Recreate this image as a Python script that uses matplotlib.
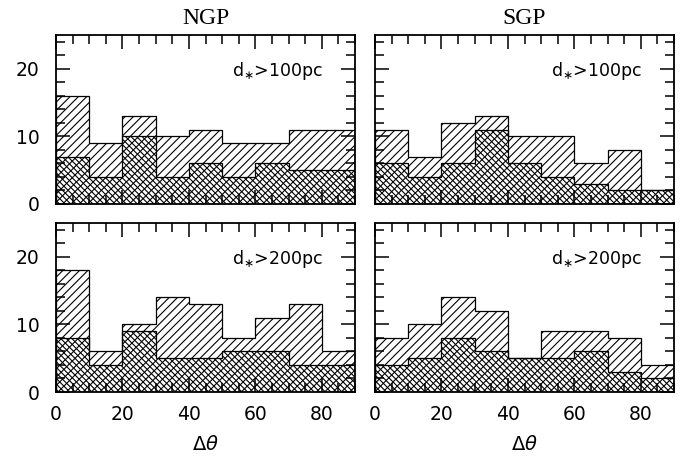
import matplotlib
matplotlib.use("Agg")
import matplotlib.pyplot as plt
import numpy as np
from matplotlib.ticker import MultipleLocator

edges = [0, 10, 20, 30, 40, 50, 60, 70, 80, 90]

ngp100_all = [16, 9, 13, 10, 11, 9, 9, 11, 11]
ngp100_sub = [7, 4, 10, 4, 6, 4, 6, 5, 5]
sgp100_all = [11, 7, 12, 13, 10, 10, 6, 8, 2]
sgp100_sub = [6, 4, 6, 11, 6, 4, 3, 2, 2]
ngp200_all = [18, 6, 10, 14, 13, 8, 11, 13, 6]
ngp200_sub = [8, 4, 9, 5, 5, 6, 6, 4, 4]
sgp200_all = [8, 10, 14, 12, 5, 9, 9, 8, 4]
sgp200_sub = [4, 5, 8, 6, 5, 5, 6, 3, 2]

titles = ["NGP", "SGP"]
labels = [r"d$_{\ast}$>100pc", r"d$_{\ast}$>200pc"]
xticks = [0, 20, 40, 60, 80]
yticks = [0, 10, 20]

plt.rcParams['hatch.linewidth'] = 0.8
plt.rcParams['hatch.color'] = 'black'

W, H = 691, 463
fig = plt.figure(figsize=(W / 100, H / 100), dpi=100)

lefts = [56 / W, 375 / W]
bottoms = [1 - 204 / H, 1 - 392 / H]
aw = 299 / W
ah = 169 / H

data = [[(ngp100_all, ngp100_sub), (sgp100_all, sgp100_sub)],
        [(ngp200_all, ngp200_sub), (sgp200_all, sgp200_sub)]]

for r in range(2):
    for c in range(2):
        ax = fig.add_axes([lefts[c], bottoms[r], aw, ah])
        allv, subv = data[r][c]
        ax.stairs(allv, edges, fill=True, facecolor='none', edgecolor='black',
                  hatch='////', linewidth=0.9)
        ax.stairs(subv, edges, fill=True, facecolor='none', edgecolor='black',
                  hatch='\\' * 6, linewidth=0.9)
        ax.set_xlim(0, 90)
        ax.set_ylim(0, 25)
        ax.xaxis.set_major_locator(MultipleLocator(20))
        ax.xaxis.set_minor_locator(MultipleLocator(5))
        ax.yaxis.set_major_locator(MultipleLocator(10))
        ax.yaxis.set_minor_locator(MultipleLocator(2))
        ax.tick_params(which='both', direction='in', top=True, right=True,
                       width=1.1, colors='black')
        ax.tick_params(which='major', length=10)
        ax.tick_params(which='minor', length=6.5)
        ax.tick_params(axis='x', which='major', pad=9, labelsize=13.5)
        ax.tick_params(axis='y', which='major', pad=12, labelsize=13.5)
        for s in ax.spines.values():
            s.set_linewidth(1.3)
        if c == 1:
            ax.tick_params(labelleft=False)
        else:
            ax.set_yticks(yticks)
        if r == 0:
            ax.tick_params(labelbottom=False)
            ax.set_title(titles[c], fontsize=17, family='Liberation Serif', pad=8)
        else:
            ax.set_xticks(xticks)
            ax.set_xlabel(r"$\Delta\theta$", fontsize=14, labelpad=8)
        ax.text(0.893, 0.757, labels[r], transform=ax.transAxes, ha='right',
                va='baseline', fontsize=12.5)

fig.savefig("out.png", dpi=100)
